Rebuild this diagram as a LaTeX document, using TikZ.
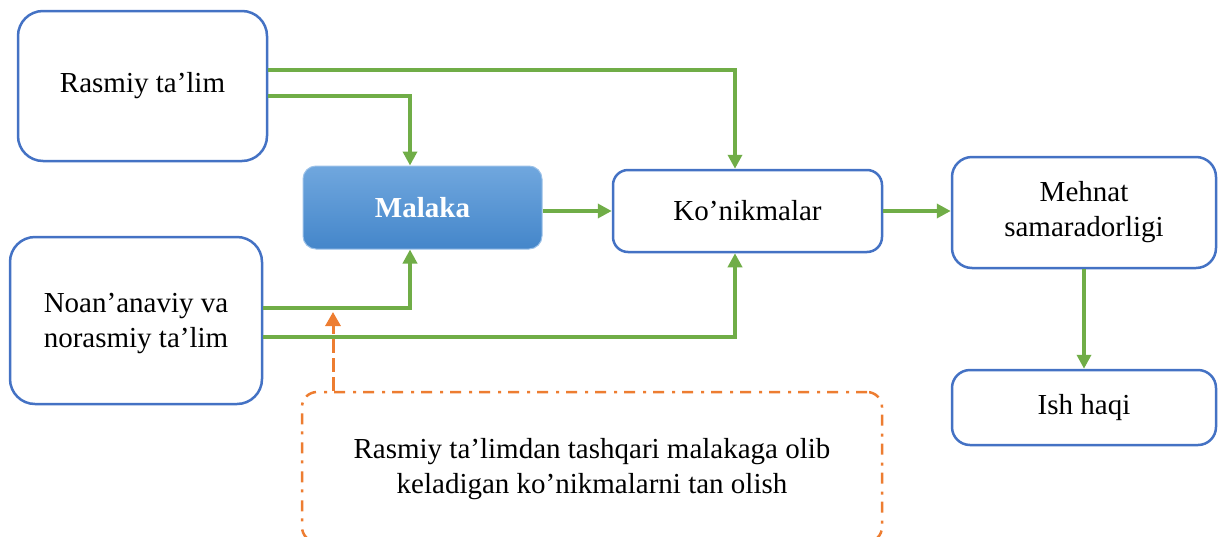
\documentclass[tikz,border=0pt]{standalone}
\usepackage{fontspec}
\setmainfont{Liberation Serif}
\usetikzlibrary{arrows.meta}

\definecolor{boxblue}{RGB}{68,114,196}
\definecolor{flowgreen}{RGB}{112,173,71}
\definecolor{noteorange}{RGB}{237,125,49}
\definecolor{malakatop}{RGB}{112,167,222}
\definecolor{malakabot}{RGB}{68,134,202}

\begin{document}
\begin{tikzpicture}[x=1pt,y=-1pt,
  font=\fontsize{29}{35}\selectfont,
  box/.style={draw=boxblue,line width=2.5pt,fill=white,align=center,inner sep=0pt},
  flow/.style={draw=flowgreen,line width=3.5pt,-{Triangle[length=14pt,width=14pt]}},
  hint/.style={draw=noteorange,line width=3pt,dash pattern=on 14pt off 5pt,-{Triangle[length=14pt,width=15pt]}}
  ]
  \useasboundingbox (0,0) rectangle (1218,536);
  \clip (0,0) rectangle (1218,536);

  \node[box,rounded corners=25pt,minimum width=249pt,minimum height=150pt] (rasmiy) at (142.5,86) {Rasmiy ta’lim};
  \node[box,rounded corners=25pt,minimum width=252pt,minimum height=167pt] (noan) at (136,320.5) {\strut Noan’anaviy va\\norasmiy ta’lim};
  \node[draw=malakatop!70!white,line width=1pt,rounded corners=13pt,top color=malakatop,bottom color=malakabot,
        text=white,font=\fontsize{29}{35}\selectfont\bfseries,minimum width=239pt,minimum height=83pt,inner sep=0pt] (malaka) at (422.5,207.5) {Malaka};
  \node[box,rounded corners=15pt,minimum width=269pt,minimum height=82pt] (konik) at (747.5,211) {Ko’nikmalar};
  \node[box,rounded corners=20pt,minimum width=264pt,minimum height=111pt] (mehnat) at (1084,212.5) {Mehnat\\samaradorligi};
  \node[box,rounded corners=18pt,minimum width=264pt,minimum height=75pt] (ishhaqi) at (1084,407.5) {Ish haqi};
  \node[draw=noteorange,line width=2.5pt,dash pattern=on 11pt off 7pt on 3pt off 8pt,rounded corners=15pt,
        align=center,inner sep=0pt,minimum width=580pt,minimum height=150pt] (note) at (592,467) {\strut Rasmiy ta’limdan tashqari malakaga olib\\keladigan ko’nikmalarni tan olish};

  \draw[flow] ([yshift=16pt]rasmiy.east) -| ([xshift=-12.5pt]konik.north);
  \draw[flow] ([yshift=-10pt]rasmiy.east) -| ([xshift=-12.5pt]malaka.north);
  \draw[flow] ([yshift=12.5pt]noan.east) -| ([xshift=-12.5pt]malaka.south);
  \draw[flow] ([yshift=-16.5pt]noan.east) -| ([xshift=-12.5pt]konik.south);
  \draw[flow] (malaka.east |- konik.west) -- (konik.west);
  \draw[flow] (konik.east) -- (konik.east -| mehnat.west);
  \draw[flow] (mehnat.south) -- (ishhaqi.north);

  \coordinate (mark) at (333,312);
  \draw[hint] (mark |- note.north) -- (mark);
\end{tikzpicture}
\end{document}
